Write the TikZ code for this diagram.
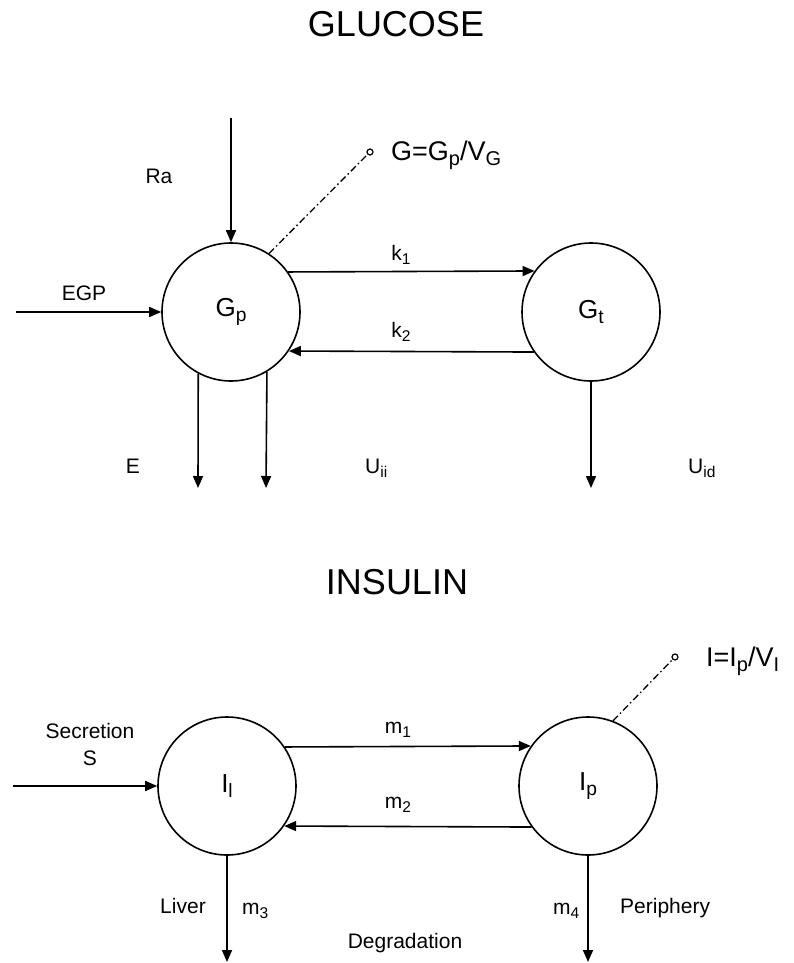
\documentclass[tikz,border=0pt]{standalone}
\usepackage{fontspec}
\usepackage{graphicx}
\setmainfont{Liberation Sans}
\usetikzlibrary{arrows.meta}
\newcommand{\sbx}[1]{\raisebox{-0.22em}{\scalebox{0.74}{#1}}}
\tikzset{
  comp/.style={circle, draw, line width=1.6pt, minimum size=138pt, inner sep=0pt, font=\fontsize{26}{30}\selectfont},
  flow/.style={line width=1.6pt, -{Triangle[length=12pt,width=10pt]}},
  obs/.style={line width=1.3pt, dash pattern=on 7pt off 3pt on 1.5pt off 3pt},
  probe/.style={circle, draw, line width=1.2pt, fill=white, minimum size=6pt, inner sep=0pt},
  lbl/.style={font=\fontsize{21}{25}\selectfont, inner sep=0pt, anchor=base},
  lblw/.style={lbl, anchor=base west},
  ttl/.style={font=\fontsize{36}{42}\selectfont, inner sep=0pt, anchor=base},
  frm/.style={font=\fontsize{27}{32}\selectfont, inner sep=0pt, anchor=base west}
}
\begin{document}
\begin{tikzpicture}[x=1pt,y=-1pt]
\useasboundingbox (0,0) rectangle (794,963);
% ---------- GLUCOSE ----------
\node[ttl] (tg) at (396,37) {GLUCOSE};
\node[comp] (Gp) at (231,312) {G\sbx{p}};
\node[comp] (Gt) at (591,312) {G\sbx{t}};
\coordinate (RaS) at (231,118);
\coordinate (EGPs) at (16,312);
\coordinate (Eend) at (198,488);
\coordinate (Uiiend) at (266,488);
\coordinate (Uidend) at (591,488);
\node[probe] (pG) at (370,152) {};
\draw[flow] (RaS) -- (Gp.north);
\draw[flow] (EGPs) -- (Gp.west);
\draw[flow] (Gp.35.4) -- (Gt.144.6);
\draw[flow] (Gt.-145.6) -- (Gp.-34.4);
\draw[flow] (Gp.-118.6) -- (Eend);
\draw[flow] (Gp.-59.5) -- (Uiiend);
\draw[flow] (Gt.south) -- (Uidend);
\draw[obs] (Gp.57) -- (pG);
\node[lbl] (lRa) at (159,183) {Ra};
\node[lbl] (lEGP) at (84,300) {EGP};
\node[lbl] (lk1) at (401,260) {k\sbx{1}};
\node[lbl] (lk2) at (401,337) {k\sbx{2}};
\node[lbl] (lE) at (133,473) {E};
\node[lblw] (lUii) at (365,473) {U\sbx{ii}};
\node[lblw] (lUid) at (688,473) {U\sbx{id}};
\node[frm] (fG) at (391,160) {G=G\sbx{p}/V\sbx{G}};
% ---------- INSULIN ----------
\node[ttl] (ti) at (397,594) {INSULIN};
\node[comp] (Il) at (227,786) {I\sbx{l}};
\node[comp] (Ip) at (588,786) {I\sbx{p}};
\coordinate (Ss) at (13,786);
\coordinate (m3end) at (227,962);
\coordinate (m4end) at (588,962);
\node[probe] (pI) at (675,657) {};
\draw[flow] (Ss) -- (Il.west);
\draw[flow] (Il.34.4) -- (Ip.145.6);
\draw[flow] (Ip.-144.6) -- (Il.-35.4);
\draw[flow] (Il.south) -- (m3end);
\draw[flow] (Ip.south) -- (m4end);
\draw[obs] (Ip.69.5) -- (pI);
\node[lbl] (lSec) at (90,738) {Secretion};
\node[lbl] (lS) at (90,765) {S};
\node[lbl] (lm1) at (398,733) {m\sbx{1}};
\node[lbl] (lm2) at (398,808) {m\sbx{2}};
\node[lbl] (lLiv) at (183,913) {Liver};
\node[lblw] (lm3) at (242,914) {m\sbx{3}};
\node[lblw] (lm4) at (553,914) {m\sbx{4}};
\node[lblw] (lPer) at (620,913) {Periphery};
\node[lbl] (lDeg) at (405,948) {Degradation};
\node[frm] (fI) at (706,666) {I=I\sbx{p}/V\sbx{I}};
\end{tikzpicture}
\end{document}
